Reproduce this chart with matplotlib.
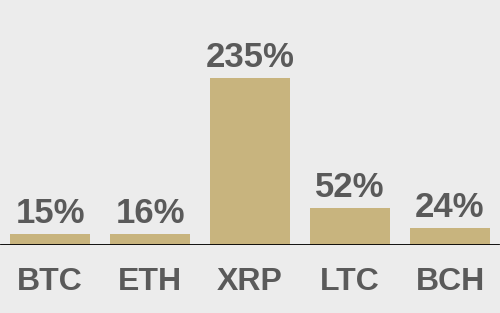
import matplotlib.pyplot as plt

coins = ["BTC", "ETH", "XRP", "LTC", "BCH"]
gains = [15, 16, 235, 52, 24]

bg = "#ececec"
bar_color = "#c8b47e"
text_color = "#5a5a5a"

fig = plt.figure(figsize=(5, 3.13), dpi=100, facecolor=bg)
ax = fig.add_axes([0, 68 / 313, 1, 245 / 313], facecolor=bg)

x = range(len(coins))
bars = ax.bar(x, gains, width=0.8, color=bar_color)
ax.set_xlim(-0.5, len(coins) - 0.5)
ax.set_ylim(0, 345)
ax.axhline(0, xmin=0.002, xmax=0.998, color="black", lw=1.3)

for rect, val in zip(bars, gains):
    ax.annotate(f"{val}%", (rect.get_x() + rect.get_width() / 2, val),
                xytext=(0, 4), textcoords="offset pixels",
                ha="center", va="bottom", fontsize=25, fontweight="bold",
                family="Liberation Sans", color=text_color)

ax.set_xticks(list(x))
ax.set_xticklabels(coins, fontsize=23, fontweight="bold",
                   family="Liberation Sans", color=text_color)
ax.tick_params(axis="x", length=0, pad=16)
ax.set_yticks([])
for s in ax.spines.values():
    s.set_visible(False)

fig.savefig("out.png", dpi=100, facecolor=bg)
